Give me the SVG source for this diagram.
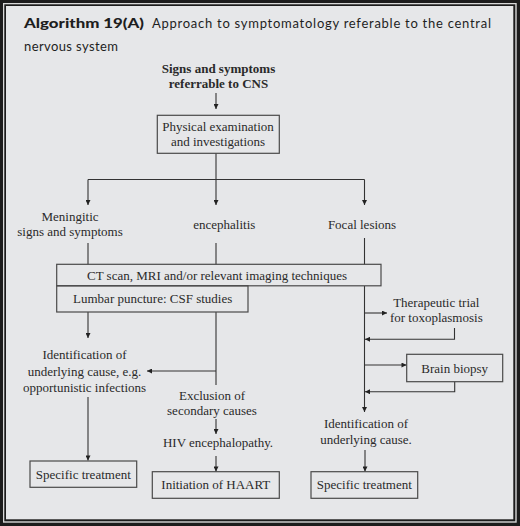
<svg xmlns="http://www.w3.org/2000/svg" width="520" height="526" viewBox="0 0 520 526">
<style>
.t{font-family:"Liberation Serif","Times New Roman",serif;font-size:13px;fill:#2a2a2a;text-anchor:middle}
.b{font-weight:bold}
.box{fill:none;stroke:#4a4a4a;stroke-width:1.2}
.ln{fill:none;stroke:#333;stroke-width:1.1}
.ttl{font-family:Lato,"DejaVu Sans",sans-serif;font-size:13px;fill:#1e1e1e}
</style>
<defs>
<marker id="ah" viewBox="0 0 6 6" refX="6" refY="3" markerWidth="6" markerHeight="5" markerUnits="userSpaceOnUse" orient="auto">
<path d="M0,0 L6,3 L0,6 z" fill="#222"/>
</marker>
</defs>
<rect x="0" y="0" width="520" height="526" fill="#1c1c1c"/>
<rect x="3" y="3" width="513.7" height="519.7" fill="#d8d8d8"/>
<rect x="4.3" y="4.3" width="511" height="517" fill="#1c1c1c"/>
<rect x="6" y="6" width="507.3" height="513.3" fill="#e6e7e9"/>

<g id="title">
<text class="ttl" x="24" y="27.5"><tspan font-weight="900" textLength="120" lengthAdjust="spacingAndGlyphs">Algorithm 19(A)</tspan></text>
<text class="ttl" x="152" y="27.5" textLength="339" lengthAdjust="spacing">Approach to symptomatology referable to the central</text>
<text class="ttl" x="24" y="50.5" textLength="94" lengthAdjust="spacing">nervous system</text>
</g>

<g id="connectors">
<path class="ln" d="M216,93 V109" marker-end="url(#ah)"/>
<path class="ln" d="M216,153.3 V205" marker-end="url(#ah)"/>
<path class="ln" d="M88,179.5 H364.5"/>
<path class="ln" d="M88,179.5 V205" marker-end="url(#ah)"/>
<path class="ln" d="M364.5,179.5 V205" marker-end="url(#ah)"/>
<path class="ln" d="M88,243 V264.3"/>
<path class="ln" d="M216,243 V264.3"/>
<path class="ln" d="M364.5,238 V264.3"/>
<path class="ln" d="M88,312 V338" marker-end="url(#ah)"/>
<path class="ln" d="M216,312 V385"/>
<path class="ln" d="M216,371 H147" marker-end="url(#ah)"/>
<path class="ln" d="M364.5,286 V412" marker-end="url(#ah)"/>
<path class="ln" d="M364.5,313 H387" marker-end="url(#ah)"/>
<path class="ln" d="M454.5,328 V339.3 H365" marker-end="url(#ah)"/>
<path class="ln" d="M364.5,365 H406.5" marker-end="url(#ah)"/>
<path class="ln" d="M454.7,381.7 V391.7 H365" marker-end="url(#ah)"/>
<path class="ln" d="M88,397 V460.5" marker-end="url(#ah)"/>
<path class="ln" d="M216,419 V434" marker-end="url(#ah)"/>
<path class="ln" d="M216,456 V471.5" marker-end="url(#ah)"/>
<path class="ln" d="M365,450 V471.5" marker-end="url(#ah)"/>
</g>

<g id="n-start">
<text class="t b" x="218.5" y="72.7">Signs and symptoms</text>
<text class="t b" x="218.5" y="87.7">referrable to CNS</text>
</g>
<g id="n-exam">
<rect class="box" x="157.3" y="115.3" width="122" height="38"/>
<text class="t" x="218" y="130.7">Physical examination</text>
<text class="t" x="218" y="145.7">and investigations</text>
</g>
<g id="n-meningitic">
<text class="t" x="70" y="221">Meningitic</text>
<text class="t" x="70" y="236">signs and symptoms</text>
</g>
<g id="n-encephalitis">
<text class="t" x="224.3" y="229">encephalitis</text>
</g>
<g id="n-focal">
<text class="t" x="362" y="229">Focal lesions</text>
</g>
<g id="n-imaging">
<rect class="box" x="56.7" y="264.3" width="324.3" height="21.5"/>
<text class="t" x="217" y="280">CT scan, MRI and/or relevant imaging techniques</text>
</g>
<g id="n-lumbar">
<rect class="box" x="56.7" y="285.8" width="191.3" height="26.2"/>
<text class="t" x="152.7" y="302.7">Lumbar puncture: CSF studies</text>
</g>
<g id="n-ident1">
<text class="t" x="84.5" y="359.3">Identification of</text>
<text class="t" x="84.5" y="375.5">underlying cause, e.g.</text>
<text class="t" x="84.5" y="391.7">opportunistic infections</text>
</g>
<g id="n-spec1">
<rect class="box" x="30" y="461" width="106.7" height="26.3"/>
<text class="t" x="83.3" y="479.3">Specific treatment</text>
</g>
<g id="n-exclusion">
<text class="t" x="212" y="400">Exclusion of</text>
<text class="t" x="212" y="415">secondary causes</text>
</g>
<g id="n-hiv">
<text class="t" x="218" y="446.7">HIV encephalopathy.</text>
</g>
<g id="n-haart">
<rect class="box" x="152.3" y="471.7" width="127" height="26.6"/>
<text class="t" x="215.8" y="489.3">Initiation of HAART</text>
</g>
<g id="n-toxo">
<text class="t" x="436.3" y="306.7">Therapeutic trial</text>
<text class="t" x="436.3" y="322.3">for toxoplasmosis</text>
</g>
<g id="n-biopsy">
<rect class="box" x="406.7" y="354.3" width="96" height="27.4"/>
<text class="t" x="454.7" y="373.3">Brain biopsy</text>
</g>
<g id="n-ident2">
<text class="t" x="366" y="428.3">Identification of</text>
<text class="t" x="366" y="444.3">underlying cause.</text>
</g>
<g id="n-spec2">
<rect class="box" x="311" y="471.7" width="106.7" height="26.6"/>
<text class="t" x="364.3" y="489.3">Specific treatment</text>
</g>
</svg>
